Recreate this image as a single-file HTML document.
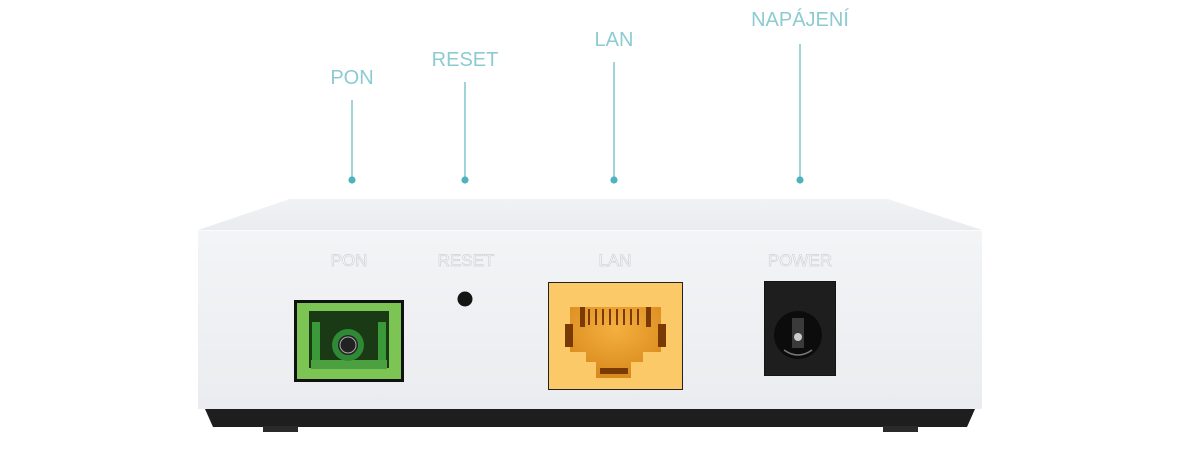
<!DOCTYPE html>
<html><head><meta charset="utf-8"><style>
html,body{margin:0;padding:0;background:#fff;}
svg{display:block;}
.c{font-family:"Liberation Sans",sans-serif;fill:#8ccbd1;font-size:20px;text-anchor:middle;}
.p{font-family:"Liberation Sans",sans-serif;fill:#fbfcfd;font-size:17px;text-anchor:middle;stroke:#cfd2d6;stroke-width:0.7;}
</style></head><body>
<svg width="1196" height="459" viewBox="0 0 1196 459" xmlns="http://www.w3.org/2000/svg">
<defs>
<linearGradient id="top" x1="0" y1="0" x2="0" y2="1"><stop offset="0" stop-color="#f1f2f4"/><stop offset="1" stop-color="#e9ebee"/></linearGradient>
<linearGradient id="front" x1="0" y1="0" x2="0" y2="1"><stop offset="0" stop-color="#f3f4f6"/><stop offset="1" stop-color="#eaecef"/></linearGradient>
<radialGradient id="lan" cx="0.5" cy="0.3" r="0.7"><stop offset="0" stop-color="#f5b040"/><stop offset="1" stop-color="#d88a1c"/></radialGradient>
</defs>
<text class="c" x="352" y="84">PON</text>
<text class="c" x="465" y="66">RESET</text>
<text class="c" x="614" y="46">LAN</text>
<text class="c" x="800" y="26">NAPÁJENÍ</text>
<g stroke="#6cbcc4" stroke-width="1.3">
<line x1="352" y1="100" x2="352" y2="180"/>
<line x1="465" y1="82" x2="465" y2="180"/>
<line x1="614" y1="62" x2="614" y2="180"/>
<line x1="800" y1="44" x2="800" y2="180"/>
</g>
<g fill="#4fb3bf">
<circle cx="352" cy="180" r="3.6"/><circle cx="465" cy="180" r="3.6"/><circle cx="614" cy="180" r="3.6"/><circle cx="800" cy="180" r="3.6"/>
</g>
<polygon points="205,409 975,409 967,427 213,427" fill="#1e1e1e"/>
<rect x="263" y="426" width="35" height="6" fill="#2a2a2a"/>
<rect x="883" y="426" width="35" height="6" fill="#2a2a2a"/>
<polygon points="290,199 888,199 982,230 198,230" fill="url(#top)"/>
<rect x="198" y="230" width="784" height="179" fill="url(#front)"/>
<line x1="198" y1="230.5" x2="982" y2="230.5" stroke="#fafbfc" stroke-width="1"/>
<text class="p" x="349" y="266">PON</text>
<text class="p" x="466" y="266">RESET</text>
<text class="p" x="615" y="266">LAN</text>
<text class="p" x="800" y="266">POWER</text>
<rect x="294" y="300" width="110" height="82" fill="#111"/>
<rect x="297" y="303" width="104" height="76" fill="#7cc454"/>
<rect x="309" y="311" width="80" height="57" fill="#1a3a16"/>
<rect x="312" y="322" width="8" height="40" fill="#3a9a3a"/>
<rect x="378" y="322" width="8" height="40" fill="#3a9a3a"/>
<rect x="311" y="360" width="76" height="9" fill="#4da040"/>
<circle cx="348" cy="345" r="16" fill="#2e8a34"/>
<circle cx="348" cy="345" r="10" fill="#222"/>
<circle cx="348" cy="345" r="8" fill="none" stroke="#aaa" stroke-width="1"/>
<circle cx="465" cy="299" r="7.5" fill="#151515"/>
<rect x="548" y="282" width="135" height="108" fill="#222"/>
<rect x="549" y="283" width="133" height="106" fill="#fcc968"/>
<polygon points="570,307 661,307 661,352 643,352 643,362 631,362 631,378 596,378 596,362 586,362 586,352 570,352" fill="url(#lan)"/>
<g fill="#7a3a05">
<rect x="565" y="324" width="8" height="23"/><rect x="658" y="324" width="8" height="23"/>
<rect x="580" y="307" width="5" height="20"/><rect x="646" y="307" width="5" height="20"/>
<rect x="588" y="309" width="2" height="16"/><rect x="595" y="309" width="2" height="16"/><rect x="602" y="309" width="2" height="16"/><rect x="609" y="309" width="2" height="16"/><rect x="616" y="309" width="2" height="16"/><rect x="623" y="309" width="2" height="16"/><rect x="630" y="309" width="2" height="16"/><rect x="637" y="309" width="2" height="16"/>
<rect x="600" y="368" width="28" height="6"/>
</g>
<rect x="764" y="281" width="72" height="95" fill="#141414"/>
<rect x="765" y="282" width="70" height="93" fill="#1e1e1e"/>
<circle cx="798" cy="335" r="24" fill="#0c0c0c"/>
<path d="M784 350 Q798 360 812 350" stroke="#777" stroke-width="1.5" fill="none"/>
<rect x="792" y="318" width="12" height="30" fill="#3a3a3a"/>
<circle cx="798" cy="337" r="4" fill="#ccc"/>
</svg>
</body></html>
